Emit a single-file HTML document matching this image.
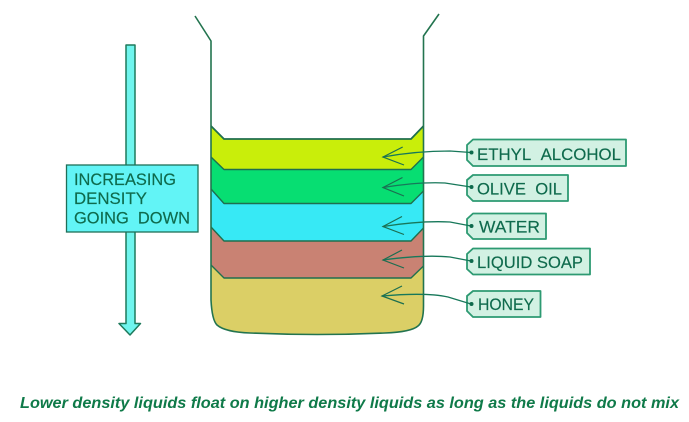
<!DOCTYPE html>
<html><head><meta charset="utf-8"><style>
html,body{margin:0;padding:0;background:#fff}
svg{display:block;filter:blur(.35px)}
text{font-family:"Liberation Sans",sans-serif}
.l{fill:#0e6a4c;font-size:17px;stroke:#0e6a4c;stroke-width:.15}
.t{fill:#d2f1e3;stroke:#2d9a72;stroke-width:1.8;stroke-linejoin:round}
.a{fill:none;stroke:#17785a;stroke-width:1.3;stroke-linecap:round}
.b{fill:none;stroke:#1c6e50;stroke-width:1.2}
.d{fill:#0e6a4c}
</style></head><body>
<svg width="689" height="422" viewBox="0 0 689 422" xmlns="http://www.w3.org/2000/svg">
<rect width="689" height="422" fill="#fff"/>

<!-- liquids -->
<path d="M211 265 L224 278 L411 278 L423.5 266 L423.5 306 Q423.5 322 418 326 Q411 332 385 333 Q317 336 250 333 Q225 332 217 325 Q212 320 211 300 Z" fill="#dbcf66"/>
<path d="M211 227 L224 241 L411 241 L423.5 228 L423.5 266 L411 278 L224 278 L211 265 Z" fill="#c98273"/>
<path d="M211 189 L224 203.5 L411 203.5 L423.5 191 L423.5 228 L411 241 L224 241 L211 227 Z" fill="#37e9f5"/>
<path d="M211 157 L224 169.5 L411 169.5 L423.5 157 L423.5 191 L411 203.5 L224 203.5 L211 189 Z" fill="#07de72"/>
<path d="M211 126 L224 139 L411 139 L423.5 126 L423.5 157 L411 169.5 L224 169.5 L211 157 Z" fill="#c9ee0a"/>
<g fill="none" stroke="#1f6f4e" stroke-width="1.4" stroke-linejoin="round">
<path d="M211 126 L224 139 L411 139 L423.5 126" stroke-width="1.8"/>
<path d="M211 157 L224 169.5 L411 169.5 L423.5 157"/>
<path d="M211 189 L224 203.5 L411 203.5 L423.5 191"/>
<path d="M211 227 L224 241 L411 241 L423.5 228"/>
<path d="M211 265 L224 278 L411 278 L423.5 266"/>
</g>
<!-- beaker -->
<path d="M195 16 L211 41 L211 300 Q212 320 217 325 Q225 332 250 333 Q317 336 385 333 Q411 332 418 326 Q423.5 322 423.5 306 L423.5 36 L439 14" fill="none" stroke="#23744f" stroke-width="1.6" stroke-linejoin="round"/>

<!-- density arrow -->
<path d="M126 45 H135 V323.5 H140.5 L130 335 L119 323.5 H126 Z" fill="#6ff5ee" stroke="#1f7a5c" stroke-width="1.5" stroke-linejoin="round"/>
<rect x="66.5" y="165" width="131.5" height="67" fill="#62f4f6" stroke="#1f6f58" stroke-width="1.3"/>
<text class="l" x="74" y="185" textLength="102" lengthAdjust="spacingAndGlyphs">INCREASING</text>
<text class="l" x="74" y="204" textLength="73" lengthAdjust="spacingAndGlyphs">DENSITY</text>
<text class="l" x="74" y="223.5" textLength="116" lengthAdjust="spacingAndGlyphs">GOING&#160;&#160;DOWN</text>

<!-- tags -->
<path class="t" d="M473 139.5 H626 V166 H473 L467 160 V145 Z"/>
<path class="t" d="M473 175 H568 V201 H473 L467 195 V180 Z"/>
<path class="t" d="M473 213.5 H546 V239 H473 L467 233 V219 Z"/>
<path class="t" d="M473 248.5 H590 V274.5 H473 L467 269 V254 Z"/>
<path class="t" d="M473 291 H540.5 V317 H473 L467 311 V296 Z"/>
<text class="l" x="477" y="160" textLength="144" lengthAdjust="spacingAndGlyphs">ETHYL&#160;&#160;ALCOHOL</text>
<text class="l" x="477" y="194.5" textLength="85" lengthAdjust="spacingAndGlyphs">OLIVE&#160;&#160;OIL</text>
<text class="l" x="479" y="232.5" textLength="61" lengthAdjust="spacingAndGlyphs">WATER</text>
<text class="l" x="477" y="268" textLength="106" lengthAdjust="spacingAndGlyphs">LIQUID SOAP</text>
<text class="l" x="478" y="310" textLength="56" lengthAdjust="spacingAndGlyphs">HONEY</text>

<!-- pointers -->
<path class="a" d="M383 157 C405 153 430 151 450 151 L471 152.5"/>
<path class="a" d="M383 187.5 C405 184 425 182 445 183 L471 187"/>
<path class="a" d="M383 226.5 C405 223 430 221 450 222 L471 226"/>
<path class="a" d="M383 260 C405 257 430 255 450 257 L471 261"/>
<path class="a" d="M382 296 C405 294 430 293 448 297 L471 304"/>
<g class="b">
<path d="M402.7 147 L383 157 L404 165"/>
<path d="M402.5 177.5 L383 187.5 L404 196"/>
<path d="M402 216.5 L383 226.5 L404 234.5"/>
<path d="M402 250 L383 260 L404 268"/>
<path d="M402 286 L382 296 L404 304"/>
</g>
<circle class="d" cx="471.5" cy="152.5" r="2"/>
<circle class="d" cx="471.5" cy="187" r="2"/>
<circle class="d" cx="471.5" cy="226" r="2"/>
<circle class="d" cx="471.5" cy="261" r="2"/>
<circle class="d" cx="471.5" cy="304" r="2"/>

<!-- caption -->
<text x="20" y="408" textLength="659" lengthAdjust="spacingAndGlyphs" style="font-size:16px;font-weight:bold;font-style:italic;fill:#0f7a49">Lower density liquids float on higher density liquids as long as the liquids do not mix</text>
</svg>
</body></html>
